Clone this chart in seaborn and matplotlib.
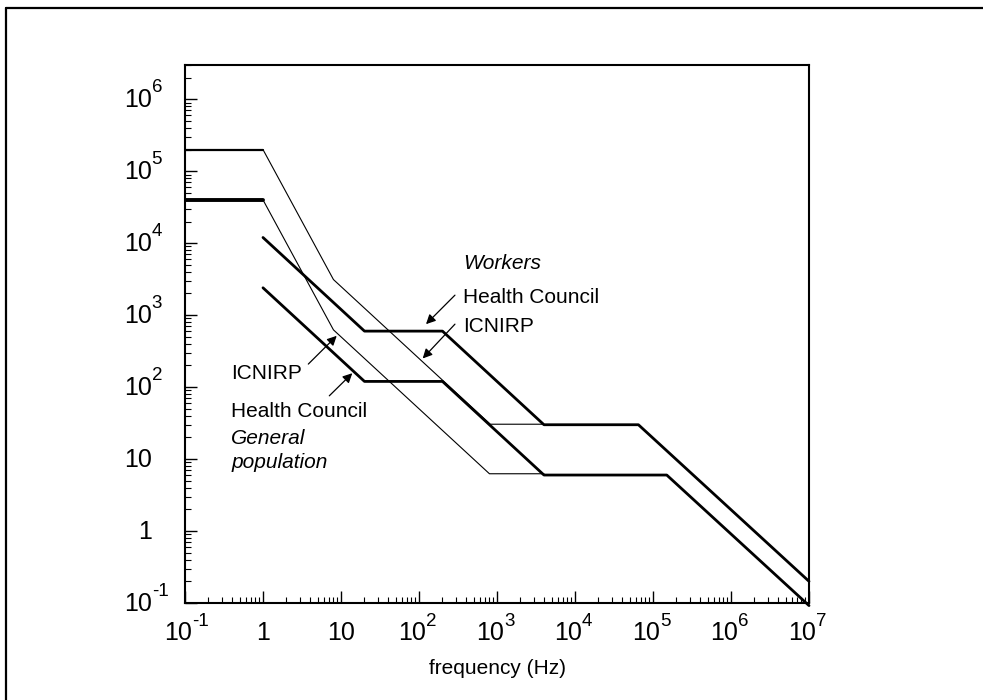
import matplotlib
matplotlib.use("Agg")
import matplotlib.pyplot as plt
from matplotlib.lines import Line2D
from matplotlib.ticker import LogLocator, NullFormatter
import seaborn as sns

# frequency in Hz, magnetic flux density limits
low_f = [0.1, 1]
low_workers_b = [2e5, 2e5]
low_public_b = [4e4, 4e4]

icnirp_workers_f = [1, 8, 820, 4000]
icnirp_workers_b = [2e5, 3125, 30.5, 30.5]
icnirp_public_f = [1, 8, 800, 4000]
icnirp_public_b = [4e4, 625, 6.25, 6.25]

hc_workers_f = [1, 20, 200, 4000, 65000, 1e7]
hc_workers_b = [12000, 600, 600, 30, 30, 0.2]
hc_public_f = [1, 20, 200, 4000, 150000, 1e7]
hc_public_b = [2400, 120, 120, 6, 6, 0.092]

x_ticks = [0.1, 1, 10, 100, 1e3, 1e4, 1e5, 1e6, 1e7]
x_bases = ["10", "1", "10", "10", "10", "10", "10", "10", "10"]
x_exps = ["-1", "", "", "2", "3", "4", "5", "6", "7"]
y_ticks = [0.1, 1, 10, 100, 1e3, 1e4, 1e5, 1e6]
y_bases = ["10", "1", "10", "10", "10", "10", "10", "10"]
y_exps = ["-1", "", "", "2", "3", "4", "5", "6"]

sns.set_style("ticks")
plt.rcParams["font.family"] = ["Liberation Sans", "DejaVu Sans"]
plt.rcParams["text.color"] = "black"
plt.rcParams["axes.labelcolor"] = "black"

fig = plt.figure(figsize=(9.83, 7.0), dpi=100)
ax = fig.add_axes([0.1882, 0.1386, 0.6348, 0.7686])
ax.set_xscale("log")
ax.set_yscale("log")

thin = dict(color="black", lw=0.8, sort=False, estimator=None, legend=False, ax=ax)
thick = dict(color="black", lw=2.0, sort=False, estimator=None, legend=False, ax=ax, clip_on=False)
sns.lineplot(x=icnirp_workers_f, y=icnirp_workers_b, **thin)
sns.lineplot(x=icnirp_public_f, y=icnirp_public_b, **thin)
sns.lineplot(x=low_f, y=low_workers_b, color="black", lw=1.6, sort=False, estimator=None, legend=False, ax=ax)
sns.lineplot(x=low_f, y=low_public_b, color="black", lw=2.8, sort=False, estimator=None, legend=False, ax=ax)
sns.lineplot(x=hc_workers_f, y=hc_workers_b, **thick)
sns.lineplot(x=hc_public_f, y=hc_public_b, **thick)

ax.set_xlim(0.1, 1e7)
ax.set_ylim(0.1, 3e6)
ax.set_xticks(x_ticks)
ax.set_yticks(y_ticks)
ax.xaxis.set_minor_locator(LogLocator(subs=range(2, 10), numticks=100))
ax.yaxis.set_minor_locator(LogLocator(subs=range(2, 10), numticks=100))
ax.xaxis.set_minor_formatter(NullFormatter())
ax.yaxis.set_minor_formatter(NullFormatter())
ax.tick_params(which="both", direction="in", top=False, right=False,
               labelbottom=False, labelleft=False, color="black")
ax.tick_params(which="major", length=8.5, width=1.0)
ax.tick_params(which="minor", length=4.3, width=0.8)
for s in ax.spines.values():
    s.set_linewidth(1.5)
    s.set_color("black")

# tick labels: base plus raised exponent
for v, b, e in zip(x_ticks, x_bases, x_exps):
    if e:
        ax.annotate(b, xy=(v, 0), xycoords=("data", "axes fraction"), xytext=(5, -26.5),
                    textcoords="offset points", ha="right", va="baseline", fontsize=18,
                    annotation_clip=False)
        ax.annotate(e, xy=(v, 0), xycoords=("data", "axes fraction"), xytext=(5, -16.5),
                    textcoords="offset points", ha="left", va="baseline", fontsize=13.5,
                    annotation_clip=False)
    else:
        ax.annotate(b, xy=(v, 0), xycoords=("data", "axes fraction"), xytext=(0, -26.5),
                    textcoords="offset points", ha="center", va="baseline", fontsize=18,
                    annotation_clip=False)
for v, b, e in zip(y_ticks, y_bases, y_exps):
    ax.annotate(b, xy=(0, v), xycoords=("axes fraction", "data"), xytext=(-24, -5.5),
                textcoords="offset points", ha="right", va="baseline", fontsize=18,
                annotation_clip=False)
    if e:
        ax.annotate(e, xy=(0, v), xycoords=("axes fraction", "data"), xytext=(-24, 5),
                    textcoords="offset points", ha="left", va="baseline", fontsize=13.5,
                    annotation_clip=False)

ax.set_xlabel("frequency (Hz)", fontsize=15, labelpad=40)

arrow = dict(arrowstyle="-|>", color="black", lw=0.9, mutation_scale=14, shrinkA=0, shrinkB=0)
ax.text(370, 5275, "Workers", fontsize=15, style="italic", va="center", ha="left")
ax.text(370, 1778, "Health Council", fontsize=15, va="center", ha="left")
ax.text(370, 703, "ICNIRP", fontsize=15, va="center", ha="left")
ax.annotate("", xy=(123, 750), xytext=(289, 1897), arrowprops=arrow)
ax.annotate("", xy=(111.5, 250), xytext=(289, 750), arrowprops=arrow)

ax.text(0.389, 156, "ICNIRP", fontsize=15, va="center", ha="left")
ax.text(0.389, 46.4, "Health Council", fontsize=15, va="center", ha="left")
ax.text(0.389, 19.6, "General", fontsize=15, style="italic", va="center", ha="left")
ax.text(0.389, 9.09, "population", fontsize=15, style="italic", va="center", ha="left")
ax.annotate("", xy=(8.81, 516), xytext=(3.81, 209), arrowprops=arrow)
ax.annotate("", xy=(13.96, 156), xytext=(7.08, 75.7), arrowprops=arrow)

# outer frame (left and top edges)
fig.add_artist(Line2D([0.0061, 0.0061], [0.0, 0.9886], transform=fig.transFigure, color="black", lw=1.6))
fig.add_artist(Line2D([0.0061, 1.0], [0.9886, 0.9886], transform=fig.transFigure, color="black", lw=1.6))

fig.savefig("out.png", dpi=100)
